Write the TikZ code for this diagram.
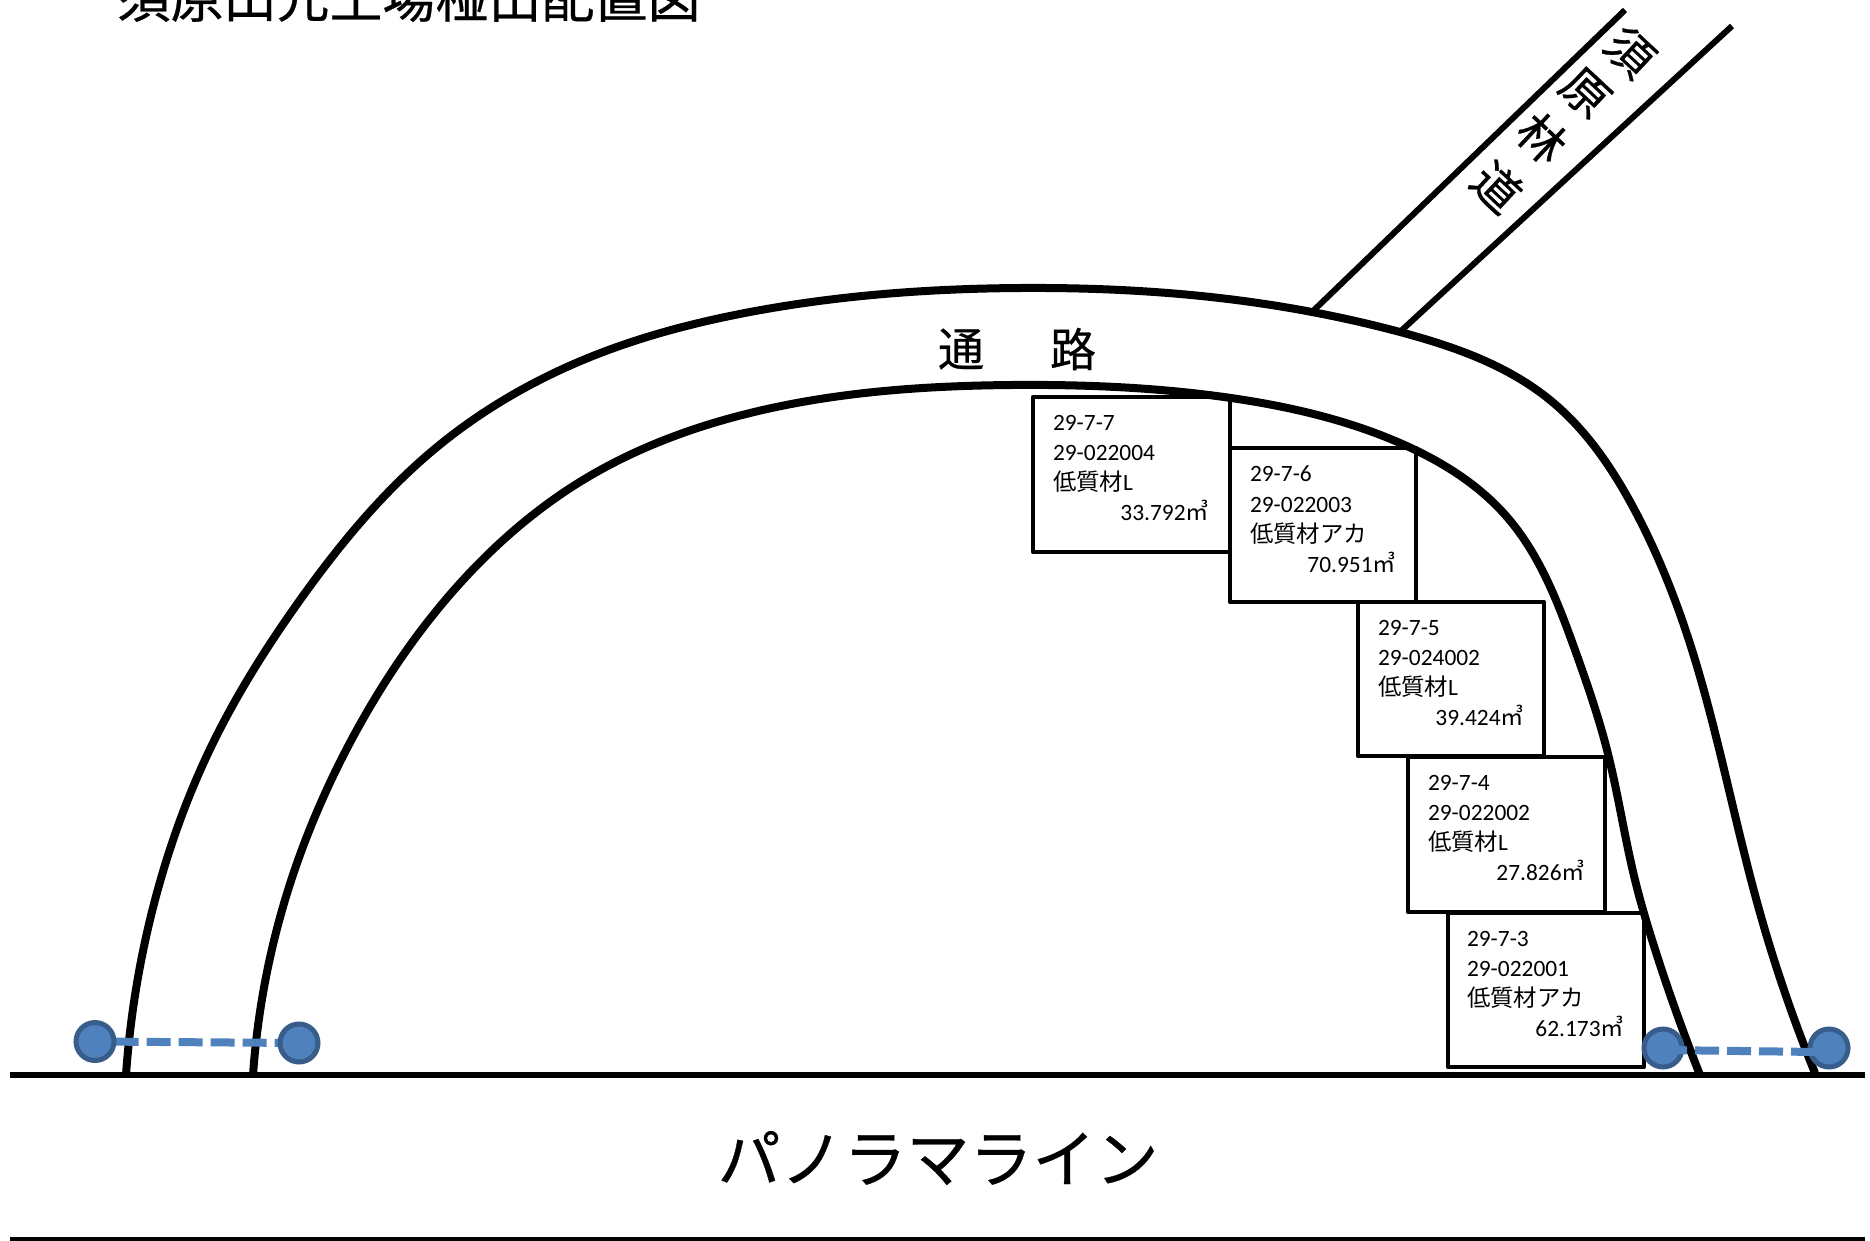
\documentclass[tikz,border=0pt]{standalone}
\usepackage{fontspec}
\usetikzlibrary{hobby}
\setmainfont{Carlito}
\newfontfamily\cjk{Noto Sans CJK JP}
\newfontfamily\cjkb[FakeBold=0.5]{Noto Sans CJK JP}
\definecolor{pfill}{HTML}{4F81BD}
\definecolor{pedge}{HTML}{385D8A}
\tikzset{
  curveline/.style={line width=8pt,line join=round,use Hobby shortcut},
  groundline/.style={line width=6pt},
  roadline/.style={line width=6pt},
  lotbox/.style={draw=black,line width=4.2pt,line join=round},
  lottext/.style={anchor=north west,inner sep=0pt,outer sep=0pt,font=\fontsize{23.4}{30.2}\selectfont,align=left},
  post/.style={circle,fill=pfill,draw=pedge,line width=5pt,minimum size=38pt,inner sep=0pt},
  tie/.style={draw=pfill,line width=8pt},
  bigcjk/.style={inner sep=0pt,font=\cjkb\fontsize{50}{50}\selectfont},
}
\begin{document}
\begin{tikzpicture}[x=1pt,y=-1pt]
\useasboundingbox (0,0) rectangle (1870,1241);
\clip (0,0) rectangle (1870,1241);
\fill[white] (0,0) rectangle (1870,1241);
% title
\node[inner sep=0pt,font=\cjkb\fontsize{53}{53}\selectfont] (title) at (409,-2.5) {須原山元土場椪出配置図};
% ground
\coordinate (g1) at (10,1075); \coordinate (g2) at (1865,1075);
\coordinate (h1) at (10,1239.5); \coordinate (h2) at (1865,1239.5);
\draw[groundline] (g1) -- (g2);
\draw[groundline] (h1) -- (h2);
% road
\coordinate (ra1) at (1312,312); \coordinate (ra2) at (1625,10);
\coordinate (rb1) at (1402,330); \coordinate (rb2) at (1732,26);
\draw[roadline] (ra1) -- (ra2);
\draw[roadline] (rb1) -- (rb2);
% curves
\draw[curveline] (126,1075) .. (155,900) .. (212,745) .. (300,600) .. (437,447) .. (583,360) .. (750,312) .. (1021,288) .. (1236,300) .. (1400,332) .. (1550,400) .. (1633,507) .. (1692,650) .. (1733,807) .. (1760,913) .. (1815,1073);
\draw[curveline] (253,1075) .. (285,900) .. (353,737) .. (463,580) .. (583,480) .. (750,413) .. (1012,385) .. (1231,398) .. (1400,443) .. (1507,517) .. (1575,650) .. (1607,750) .. (1635,880) .. (1653,943) .. (1700,1075);
% lots
\draw[lotbox] (1033,397) rectangle (1230,552);
\draw[lotbox] (1230,448) rectangle (1416,602);
\draw[lotbox] (1358,602) rectangle (1544,756);
\draw[lotbox] (1408,757) rectangle (1605,912);
\draw[lotbox] (1448,913) rectangle (1644,1067);
\node[lottext,text width=156pt] (t7) at (1053,415) {29-7-7\\29-022004\\{\cjk 低質材}L\\\hspace*{\fill}33.792{\cjk ㎥}};
\node[lottext,text width=146pt] (t6) at (1250,466) {29-7-6\\29-022003\\{\cjk 低質材アカ}\\\hspace*{\fill}70.951{\cjk ㎥}};
\node[lottext,text width=146pt] (t5) at (1378,620) {29-7-5\\29-024002\\{\cjk 低質材}L\\\hspace*{\fill}39.424{\cjk ㎥}};
\node[lottext,text width=157pt] (t4) at (1428,775) {29-7-4\\29-022002\\{\cjk 低質材}L\\\hspace*{\fill}27.826{\cjk ㎥}};
\node[lottext,text width=157pt] (t3) at (1467,931) {29-7-3\\29-022001\\{\cjk 低質材アカ}\\\hspace*{\fill}62.173{\cjk ㎥}};
% labels
\node[bigcjk,font=\cjkb\fontsize{46}{46}\selectfont] (tsu) at (961,349) {通};
\node[bigcjk,font=\cjkb\fontsize{46}{46}\selectfont] (ro) at (1073,349) {路};
\node[bigcjk,font=\cjkb\fontsize{47}{47}\selectfont,rotate=-43] (s1) at (1630,52) {須};
\node[bigcjk,font=\cjkb\fontsize{47}{47}\selectfont,rotate=-43] (s2) at (1585,93) {原};
\node[bigcjk,font=\cjkb\fontsize{47}{47}\selectfont,rotate=-43] (s3) at (1542,138) {林};
\node[bigcjk,font=\cjkb\fontsize{47}{47}\selectfont,rotate=-43] (s4) at (1497,187) {道};
\node[inner sep=0pt,font=\cjkb\fontsize{63}{63}\selectfont] (pano) at (938,1158) {パノラマライン};
% posts
\coordinate (a1) at (95,1041.5);
\coordinate (a2) at (299,1043);
\draw[tie,dash pattern=on 24pt off 8pt,dash phase=12.3pt] (a1) -- (a2);
\node[post] (p1) at (a1) {};
\node[post] (p2) at (a2) {};
\node[post] (p3) at (1663,1048) {};
\node[post] (p4) at (1829,1048) {};
\coordinate (q3) at (1663,1050);
\coordinate (q4) at (1817,1052);
\draw[tie,dash pattern=on 24pt off 8pt] (q3) -- (q4);
\end{tikzpicture}
\end{document}
